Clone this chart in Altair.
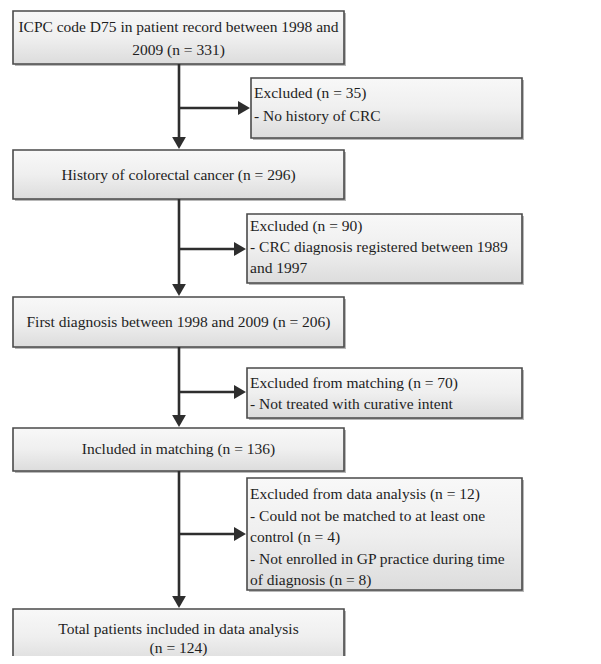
import altair as alt
import pandas as pd

# ---- content ----
main_labels = [
    ["ICPC code D75 in patient record between 1998 and", "2009 (n = 331)"],
    ["History of colorectal cancer (n = 296)"],
    ["First diagnosis between 1998 and 2009 (n = 206)"],
    ["Included in matching (n = 136)"],
    ["Total patients included in data analysis", "(n = 124)"],
]
excl_labels = [
    ["Excluded (n = 35)", "- No history of CRC"],
    ["Excluded (n = 90)", "- CRC diagnosis registered between 1989", "and 1997"],
    ["Excluded from matching (n = 70)", "- Not treated with curative intent"],
    ["Excluded from data analysis (n = 12)", "- Could not be matched to at least one",
     "control (n = 4)", "- Not enrolled in GP practice during time",
     "of diagnosis (n = 8)"],
]

# ---- layout (pixel coordinates of the page) ----
main_x = (13, 344)
main_y = [(11, 64), (150, 199), (297, 347), (428, 471), (609, 664)]
main_text_y = [[27, 50], [175], [322], [449], [629, 648]]
excl_box = [(251, 522, 78, 138), (247, 522, 214, 283), (247, 522, 368, 418), (247, 522, 478, 590)]
excl_text_x = [254, 250, 250, 250]
excl_text_y = [[93, 116], [226, 247, 268], [383, 404], [494, 516, 537, 559, 580]]
arrow_y = [108, 249, 392, 534]
stem_x = 179
head = 7

W, H = 585, 648
xs = alt.Scale(domain=[8, 8 + W], nice=False, zero=False)
ys = alt.Scale(domain=[8, 8 + H], nice=False, zero=False, reverse=True)

boxes = []
for (y0, y1) in main_y:
    boxes.append(dict(x=main_x[0], x2=main_x[1], y=y0, y2=y1))
for (x0, x1, y0, y1) in excl_box:
    boxes.append(dict(x=x0, x2=x1, y=y0, y2=y1))
boxes = pd.DataFrame(boxes)
shadow = boxes.copy()
shadow[["x", "x2"]] += 2
shadow[["y", "y2"]] += 2

texts = []
for lines, ys_ in zip(main_labels, main_text_y):
    for t, yy in zip(lines, ys_):
        texts.append(dict(t=t, x=(main_x[0] + main_x[1]) / 2, y=yy))
center_txt = pd.DataFrame(texts)
left = []
for lines, xx, ys_ in zip(excl_labels, excl_text_x, excl_text_y):
    for t, yy in zip(lines, ys_):
        left.append(dict(t=t, x=xx, y=yy))
left_txt = pd.DataFrame(left)

rules = []
for i in range(len(main_y) - 1):
    rules.append(dict(x=stem_x, x2=stem_x, y=main_y[i][1], y2=main_y[i + 1][0] - head))
for (x0, x1, y0, y1), ay in zip(excl_box, arrow_y):
    rules.append(dict(x=stem_x, x2=x0 - head, y=ay, y2=ay))
rules = pd.DataFrame(rules)

down_heads = pd.DataFrame([dict(x=stem_x, y=main_y[i + 1][0] - head) for i in range(len(main_y) - 1)])
right_heads = pd.DataFrame([dict(x=b[0] - head, y=ay) for b, ay in zip(excl_box, arrow_y)])

grad = alt.LinearGradient(
    gradient="linear",
    stops=[alt.GradientStop(color="#f8f8f8", offset=0),
           alt.GradientStop(color="#efefef", offset=0.5),
           alt.GradientStop(color="#dcdcdc", offset=1)],
    x1=0, x2=0, y1=0, y2=1,
)

def X(f="x"):
    return alt.X(f"{f}:Q", scale=xs, axis=None)

def Y(f="y"):
    return alt.Y(f"{f}:Q", scale=ys, axis=None)

FONT = "'Liberation Serif', 'Times New Roman', serif"

shadow_l = alt.Chart(shadow).mark_rect(color="#9a9a9a", opacity=0.7, clip=True).encode(
    x=X(), x2="x2:Q", y=Y(), y2="y2:Q")
box_l = alt.Chart(boxes).mark_rect(fill=grad, stroke="#4a4a4a", strokeWidth=1.6, clip=True).encode(
    x=X(), x2="x2:Q", y=Y(), y2="y2:Q")
rule_l = alt.Chart(rules).mark_rule(color="#2e2e2e", strokeWidth=2.6).encode(
    x=X(), x2="x2:Q", y=Y(), y2="y2:Q")
down_l = alt.Chart(down_heads).mark_point(shape="triangle-down", filled=True, color="#2e2e2e",
                                          size=190, opacity=1).encode(x=X(), y=Y())
right_l = alt.Chart(right_heads).mark_point(shape="triangle-right", filled=True, color="#2e2e2e",
                                            size=190, opacity=1).encode(x=X(), y=Y())
font = dict(font=FONT, fontSize=15.5, color="#1e1e1e", baseline="middle")
ctext = alt.Chart(center_txt).mark_text(align="center", **font).encode(x=X(), y=Y(), text="t:N")
ltext = alt.Chart(left_txt).mark_text(align="left", **font).encode(x=X(), y=Y(), text="t:N")

chart = alt.layer(shadow_l, box_l, rule_l, down_l, right_l, ctext, ltext).properties(
    width=W, height=H, padding=0, autosize=alt.AutoSizeParams(type="none")
).configure_view(stroke=None)

chart.save("out.html", embed_options={"renderer": "svg", "actions": False})
